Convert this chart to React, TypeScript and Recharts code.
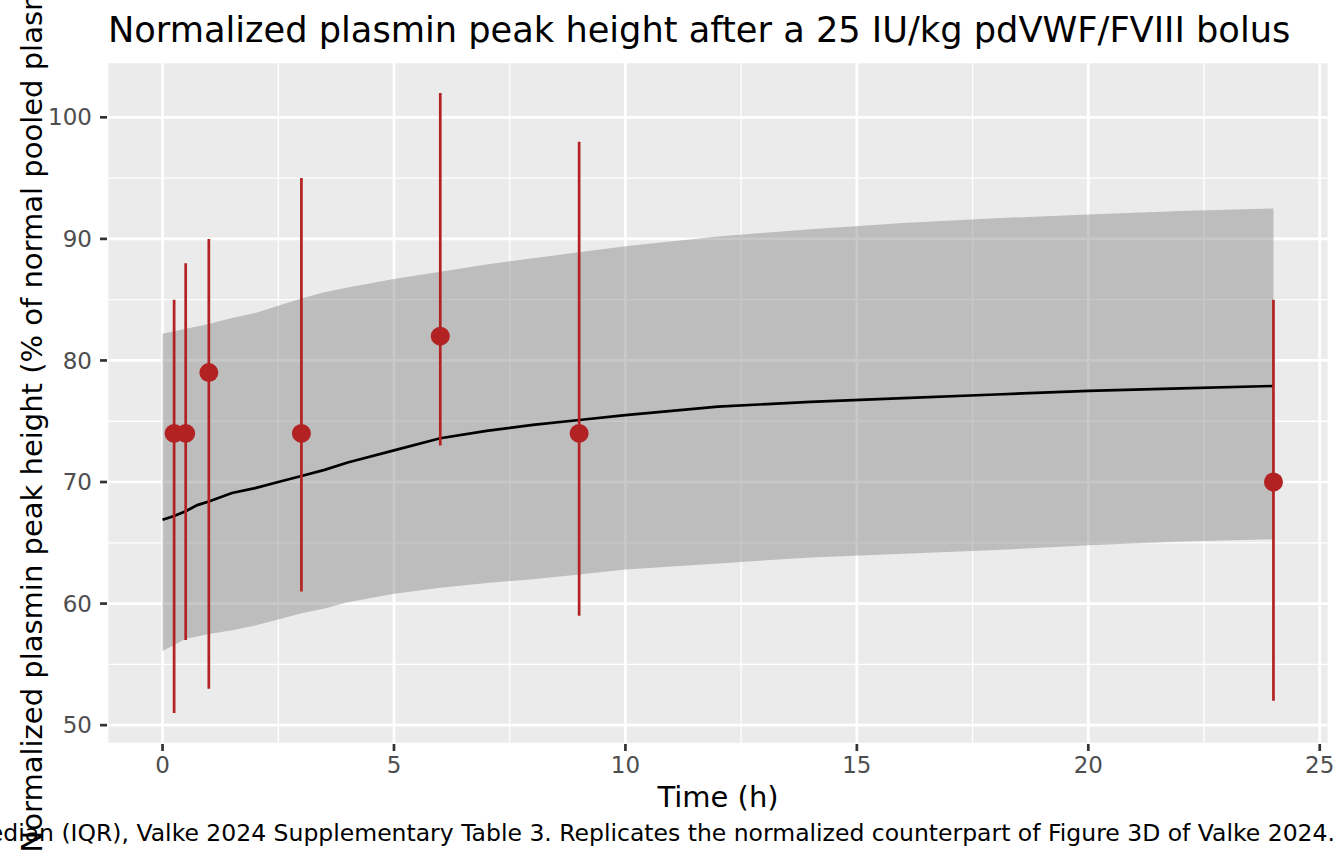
import React from "react";
import {
  Area,
  CartesianGrid,
  ComposedChart,
  ErrorBar,
  Line,
  Scatter,
  XAxis,
  YAxis,
} from "recharts";

// model prediction (median and 90% band)
const predTime = [0, 0.25, 0.5, 0.75, 1, 1.5, 2, 2.5, 3, 3.5, 4, 5, 6, 7, 8, 9, 10, 12, 14, 16, 18, 20, 22, 24];
const predMid = [66.9, 67.2, 67.6, 68.1, 68.4, 69.1, 69.5, 70.0, 70.5, 71.0, 71.6, 72.6, 73.6, 74.2, 74.7, 75.1, 75.5, 76.2, 76.6, 76.9, 77.2, 77.5, 77.7, 77.9];
const predLow = [56.1, 56.6, 57.1, 57.3, 57.5, 57.8, 58.2, 58.7, 59.2, 59.6, 60.1, 60.8, 61.3, 61.7, 62.0, 62.4, 62.8, 63.3, 63.8, 64.1, 64.4, 64.8, 65.1, 65.3];
const predHigh = [82.2, 82.4, 82.6, 82.8, 83.0, 83.5, 83.9, 84.5, 85.1, 85.6, 86.0, 86.7, 87.3, 87.9, 88.4, 88.9, 89.4, 90.2, 90.8, 91.3, 91.7, 92.0, 92.3, 92.5];

// observed median (IQR)
const obsTime = [0.25, 0.5, 1, 3, 6, 9, 24];
const obsMedian = [74, 74, 79, 74, 82, 74, 70];
const obsLow = [51, 57, 53, 61, 73, 59, 52];
const obsHigh = [85, 88, 90, 95, 102, 98, 85];

const xTicks = [0, 5, 10, 15, 20, 25];
const xMinorTicks = [2.5, 7.5, 12.5, 17.5, 22.5];
const yTicks = [50, 60, 70, 80, 90, 100];
const yMinorTicks = [55, 65, 75, 85, 95];

const xDomain = [-1.2, 25.2];
const yDomain = [48.45, 104.55];

const RED = "#B22222";
const FONT = "DejaVu Sans";

const predRows = predTime.map((t, i) => ({
  t,
  mid: predMid[i],
  band: [predLow[i], predHigh[i]],
}));

const obsRows = obsTime.map((t, i) => ({
  t,
  med: obsMedian[i],
  err: [obsMedian[i] - obsLow[i], obsHigh[i] - obsMedian[i]],
}));

const tickStyle = { fill: "#4D4D4D", fontSize: 23, fontFamily: FONT };

export default function App() {
  return (
    <div style={{ position: "fixed", left: 0, top: 0, width: 1344, height: 864, background: "#fff", overflow: "hidden" }}>
      <ComposedChart
        width={1344}
        height={864}
        data={predRows}
        margin={{ top: 62, right: 15, bottom: 0, left: 0 }}
      >
        <XAxis xAxisId="minor" dataKey="t" type="number" domain={xDomain} ticks={xMinorTicks} hide allowDataOverflow />
        <YAxis yAxisId="minor" type="number" domain={yDomain} ticks={yMinorTicks} hide allowDataOverflow />
        <CartesianGrid xAxisId="minor" yAxisId="minor" stroke="#FFFFFF" strokeWidth={1.3} fill="#EBEBEB" fillOpacity={1} />
        <CartesianGrid stroke="#FFFFFF" strokeWidth={2.7} />
        <XAxis
          dataKey="t"
          type="number"
          domain={xDomain}
          ticks={xTicks}
          allowDataOverflow
          height={120}
          axisLine={false}
          tickSize={7}
          tickMargin={6}
          tickLine={{ stroke: "#333333", strokeWidth: 2.7 }}
          tick={tickStyle}
        />
        <YAxis
          type="number"
          domain={yDomain}
          ticks={yTicks}
          allowDataOverflow
          width={107}
          axisLine={false}
          tickSize={7}
          tickMargin={8}
          tickLine={{ stroke: "#333333", strokeWidth: 2.7 }}
          tick={tickStyle}
        />
        <Area
          dataKey="band"
          type="linear"
          stroke="none"
          fill="#7F7F7F"
          fillOpacity={0.43}
          isAnimationActive={false}
        />
        <Line dataKey="mid" type="linear" stroke="#000000" strokeWidth={2.7} dot={false} isAnimationActive={false} />
        <Scatter
          data={obsRows}
          dataKey="med"
          fill={RED}
          isAnimationActive={false}
          shape={(p: any) => <circle cx={p.cx} cy={p.cy} r={9.5} fill={RED} />}
        >
          <ErrorBar dataKey="err" direction="y" width={0} stroke={RED} strokeWidth={2.7} isAnimationActive={false} />
        </Scatter>
      </ComposedChart>
      <svg
        width={1344}
        height={864}
        style={{ position: "absolute", left: 0, top: 0, pointerEvents: "none" }}
        fontFamily={FONT}
      >
        <text x={108} y={42} fontSize={35.2} fill="#000">
          Normalized plasmin peak height after a 25 IU/kg pdVWF/FVIII bolus
        </text>
        <text transform="translate(42,403) rotate(-90)" textAnchor="middle" fontSize={29} fill="#000">
          Normalized plasmin peak height (% of normal pooled plasma)
        </text>
        <text x={718} y={807} textAnchor="middle" fontSize={29} fill="#000">
          Time (h)
        </text>
        <text x={1335} y={841} textAnchor="end" fontSize={23.5} fill="#000">
          Median (IQR), Valke 2024 Supplementary Table 3. Replicates the normalized counterpart of Figure 3D of Valke 2024.
        </text>
      </svg>
    </div>
  );
}
